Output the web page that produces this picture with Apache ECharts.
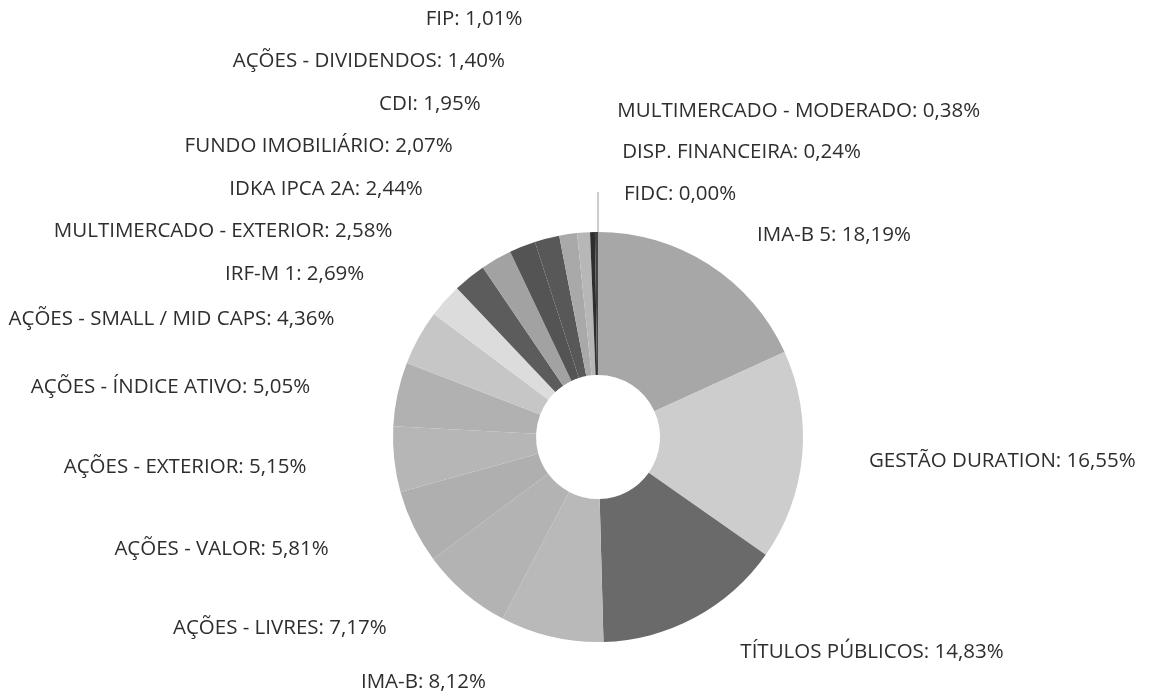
<!DOCTYPE html>
<html>
<head>
<meta charset="utf-8">
<script src="https://cdn.jsdelivr.net/npm/echarts@6/dist/echarts.min.js"></script>
<style>
  html, body { margin: 0; background: #fff; }
  #chart { width: 1152px; height: 696px; }
</style>
</head>
<body>
<div id="chart"></div>
<script>
// carteira por segmento (%), sentido horário a partir do topo
const categories = [
  'IMA-B 5', 'GESTÃO DURATION', 'TÍTULOS PÚBLICOS', 'IMA-B', 'AÇÕES - LIVRES',
  'AÇÕES - VALOR', 'AÇÕES - EXTERIOR', 'AÇÕES - ÍNDICE ATIVO', 'AÇÕES - SMALL / MID CAPS',
  'IRF-M 1', 'MULTIMERCADO - EXTERIOR', 'IDKA IPCA 2A', 'FUNDO IMOBILIÁRIO', 'CDI',
  'AÇÕES - DIVIDENDOS', 'FIP', 'MULTIMERCADO - MODERADO', 'DISP. FINANCEIRA', 'FIDC'
]
const values = [
  18.19, 16.55, 14.83, 8.12, 7.17,
  5.81, 5.15, 5.05, 4.36,
  2.69, 2.58, 2.44, 2.07, 1.95,
  1.40, 1.01, 0.38, 0.24, 0.00
]
const palette = [
  '#a7a7a7', '#cdcdcd', '#6a6a6a', '#b9b9b9', '#b3b3b3',
  '#afafaf', '#b6b6b6', '#b1b1b1', '#c6c6c6',
  '#dcdcdc', '#5c5c5c', '#a2a2a2', '#545454', '#585858',
  '#a9a9a9', '#b7b7b7', '#2e2e2e', '#444444', '#999999'
]

const CX = 598, CY = 437, R_IN = 62, R_OUT = 205
// rótulos: raios de ancoragem, folga e passo vertical mínimo, por lado
const SIDE = {
  right: { rx: 246, ry: 242, gap: 26, dy: 2, step: 41.5 },
  left: { rx: 234, ry: 249, gap: -59, dy: 2.5, step: 42.5 }
}

const fmt = v => v.toFixed(2).replace('.', ',')

// posição natural de cada rótulo a partir do ângulo médio da fatia
const total = values.reduce((a, b) => a + b, 0)
let acc = 0
const labelPos = values.map((v, i) => {
  const mid = (acc + v / 2) / total * Math.PI * 2
  acc += v
  const s = Math.sin(mid), c = Math.cos(mid)
  const right = s > -0.03 // fatias coladas ao topo ficam à direita
  const side = right ? SIDE.right : SIDE.left
  return {
    i, s, c, right,
    key: mid > Math.PI ? mid - Math.PI * 2 : mid,
    x: CX + side.rx * s + side.gap,
    y: CY - side.ry * c + side.dy
  }
})

// empilha para cima quando os rótulos se sobrepõem
function stack(list, step) {
  for (let k = list.length - 2; k >= 0; k--) {
    list[k].y = Math.min(list[k].y, list[k + 1].y - step)
  }
}
stack(labelPos.filter(p => p.right).sort((a, b) => a.key - b.key), SIDE.right.step)
stack(labelPos.filter(p => !p.right).sort((a, b) => b.key - a.key), SIDE.left.step)

const chart = echarts.init(document.getElementById('chart'))
chart.setOption({
  animation: false,
  color: palette,
  series: [{
    type: 'pie',
    center: [CX, CY],
    radius: [R_IN, R_OUT],
    startAngle: 90,
    clockwise: true,
    avoidLabelOverlap: false,
    emphasis: { disabled: true },
    label: {
      show: true,
      position: 'outside',
      color: '#2e2e2e',
      fontFamily: 'Open Sans',
      fontSize: 20.5,
      formatter: p => p.name + ': ' + fmt(p.value) + '%'
    },
    labelLine: { show: false, length: 10, length2: 10 },
    labelLayout: params => {
      const p = labelPos[params.dataIndex]
      const out = {
        x: p.x,
        y: p.y,
        align: p.right ? 'left' : 'right',
        verticalAlign: 'middle'
      }
      if (values[params.dataIndex] === 0) {
        const ex = CX + R_OUT * p.s, ey = CY - R_OUT * p.c
        out.labelLinePoints = [[ex, ey], [ex, p.y - 2], [ex, p.y - 2]]
      }
      return out
    },
    data: categories.map((name, i) => ({
      name,
      value: values[i],
      labelLine: values[i] === 0
        ? { show: true, lineStyle: { color: '#9a9a9a', width: 1 } }
        : undefined
    }))
  }]
})
</script>
</body>
</html>
